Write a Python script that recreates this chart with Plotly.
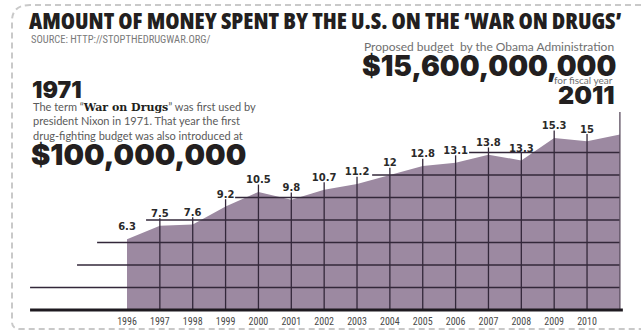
import plotly.graph_objects as go

# U.S. federal drug-control spending, billions of dollars
years = [1996, 1997, 1998, 1999, 2000, 2001, 2002, 2003, 2004, 2005,
         2006, 2007, 2008, 2009, 2010, 2011]
spending = [6.3, 7.5, 7.6, 9.2, 10.5, 9.8, 10.7, 11.2, 12, 12.8,
            13.1, 13.8, 13.3, 15.3, 15, 15.6]
value_labels = ["6.3", "7.5", "7.6", "9.2", "10.5", "9.8", "10.7", "11.2",
                "12", "12.8", "13.1", "13.8", "13.3", "15.3", "15"]
year_labels = ["1996", "1997", "1998", "1999", "2000", "2001", "2002", "2003",
               "2004", "2005", "2006", "2007", "2008", "2009", "2010"]
grid_levels = [2, 4, 6, 8, 10, 12, 14]

W, H = 641, 332
# axis scale: pixels per year / per billion
PX_YEAR = 32.86
PX_UNIT = 11.25
X0_PX, Y0_PX = 127, 310
x_range = [1996 - X0_PX / PX_YEAR, 1996 + (W - X0_PX) / PX_YEAR]
y_range = [-(H - Y0_PX) / PX_UNIT, Y0_PX / PX_UNIT]

# where each stepped grid rule begins on the left
grid_start = {2: 1993.05, 4: 1994.48, 6: 1995.09, 8: 1996.58,
              10: 1999.29, 12: 2003.46, 14: 2006.41}
LINE = "#33283a"
FILL = "#9c89a1"
NARROW = "Roboto Condensed, Roboto, sans-serif"
HEAVY = "Inter, Noto Sans, sans-serif"
BODY = "Lato, sans-serif"


def px(x):
    return x / W


def py(y):
    return 1 - y / H


fig = go.Figure()

fig.add_trace(go.Scatter(
    x=years, y=spending, mode="lines", fill="tozeroy",
    fillcolor=FILL, line=dict(width=0, color=FILL), hoverinfo="skip"))

shapes = []
for lvl in grid_levels:
    shapes.append(dict(type="line", xref="x", yref="y",
                       x0=grid_start[lvl], x1=years[-1], y0=lvl, y1=lvl,
                       line=dict(color=LINE, width=1.3)))
for yr, v in zip(years[1:-1], spending[1:-1]):
    shapes.append(dict(type="line", xref="x", yref="y",
                       x0=yr, x1=yr, y0=0, y1=v + 0.65,
                       line=dict(color=LINE, width=1.3)))
shapes.append(dict(type="line", xref="x", yref="y",
                   x0=years[-1], x1=years[-1], y0=0, y1=17.6,
                   line=dict(color="#5a4c5e", width=1.3)))
shapes.append(dict(type="line", xref="x", yref="y",
                   x0=1993.05, x1=2011.09, y0=0, y1=0,
                   line=dict(color="#1e1a20", width=3)))

# dashed frame with rounded left corners, open on the right
l, t, b, r = 12, 5, 329, W
rx, ry = 18, 16
rbx, rby = 8, 7
path = (f"M {px(r)},{py(t)} L {px(l + rx)},{py(t)} "
        f"Q {px(l)},{py(t)} {px(l)},{py(t + ry)} "
        f"L {px(l)},{py(b - rby)} "
        f"Q {px(l)},{py(b)} {px(l + rbx)},{py(b)} "
        f"L {px(r)},{py(b)}")
shapes.append(dict(type="path", xref="paper", yref="paper", path=path,
                   line=dict(color="#c9c9c9", width=2, dash="6px,4px")))

fig.add_trace(go.Scatter(
    x=years[:-1], y=[v + 1.0 for v in spending[:-1]], mode="text",
    text=value_labels, textposition="middle center",
    textfont=dict(family="DejaVu Sans", size=10, color="#2a2a2a", weight="bold"),
    hoverinfo="skip"))

fig.add_trace(go.Scatter(
    x=years[:-1], y=[-1.07] * len(year_labels), mode="text",
    text=year_labels, textposition="middle center",
    textfont=dict(family=NARROW, size=10, color="#4a4a4a"),
    hoverinfo="skip"))

ann = []


def note(text, x, y, size, family, color, xanchor="left", weight="normal"):
    ann.append(dict(text=text, x=px(x), y=py(y), xref="paper", yref="paper",
                    xanchor=xanchor, yanchor="middle", showarrow=False,
                    align=xanchor, borderpad=0,
                    font=dict(size=size, family=family, color=color, weight=weight)))


note("<span style='font-stretch:75%'>AMOUNT OF MONEY SPENT BY THE U.S. ON THE "
     "\u2018WAR ON DRUGS\u2019</span>",
     28, 20, 23, "Open Sans", "#231f20", weight=800)
note("SOURCE: HTTP://STOPTHEDRUGWAR.ORG/", 30, 39, 10.5, NARROW, "#7a7a7a")
note("Proposed budget  by the Obama Administration", 615, 47, 12,
     BODY, "#707070", xanchor="right")
note("$15,600,000,000", 617, 66, 28, HEAVY, "#231f20", xanchor="right", weight=900)
note("for fiscal year", 614, 80, 10, BODY, "#707070", xanchor="right")
note("2011", 616, 95, 25, HEAVY, "#231f20", xanchor="right", weight=900)
note("1971", 31, 90, 23, HEAVY, "#231f20", weight=900)
note("The term \u201c<span style='font-family:DejaVu Serif;font-weight:bold;color:#231f20'>"
     "War on Drugs</span>\u201d was first used by"
     "<br>president Nixon in 1971. That year the first"
     "<br>drug-fighting budget was also introduced at",
     32, 121, 11, BODY, "#5a5a5a")
note("$100,000,000", 30, 154, 29, HEAVY, "#231f20", weight=900)

fig.update_layout(
    width=W, height=H, margin=dict(l=0, r=0, t=0, b=0),
    paper_bgcolor="white", plot_bgcolor="white", showlegend=False,
    xaxis=dict(range=x_range, visible=False, fixedrange=True),
    yaxis=dict(range=y_range, visible=False, fixedrange=True),
    shapes=shapes, annotations=ann)

fig.write_html("out.html")
